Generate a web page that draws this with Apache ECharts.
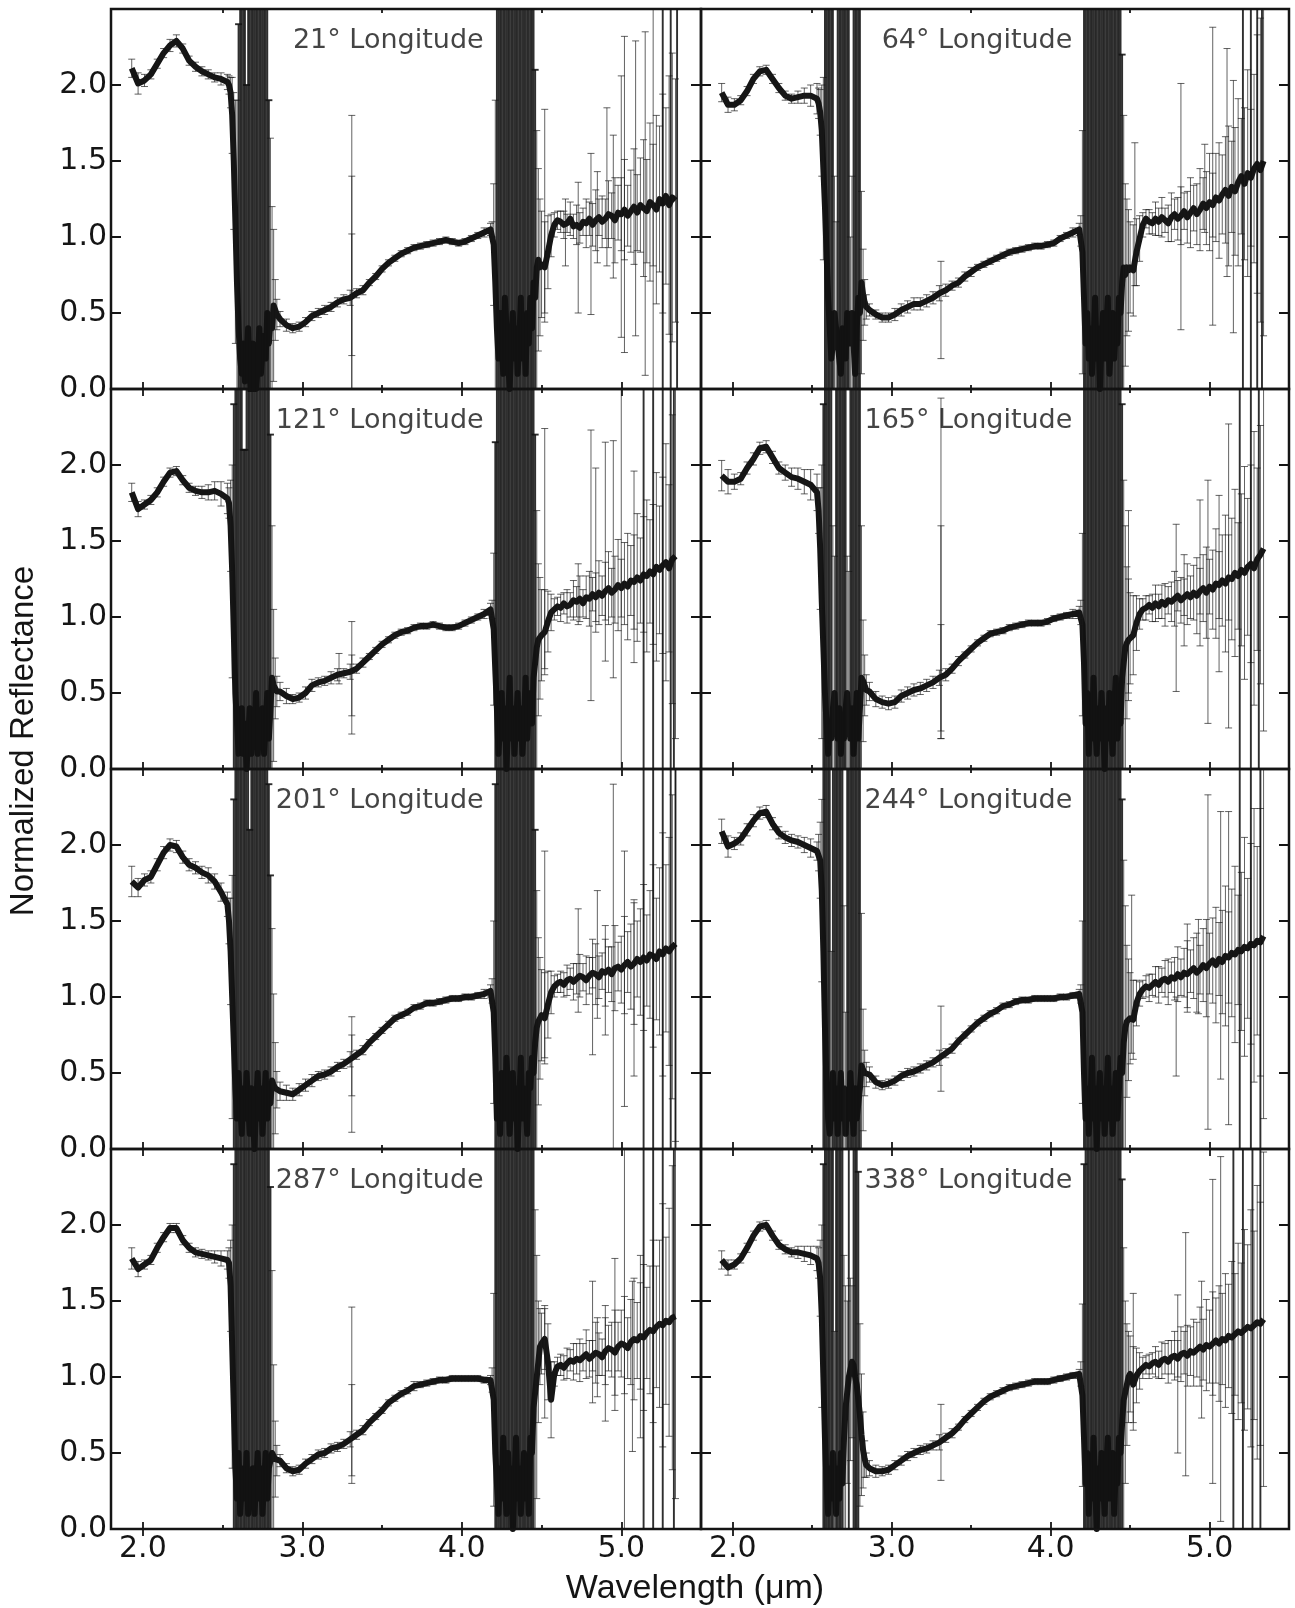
<!DOCTYPE html>
<html>
<head>
<meta charset="utf-8">
<script src="https://cdn.jsdelivr.net/npm/echarts@6/dist/echarts.min.js"></script>
<style>
  html, body { margin: 0; padding: 0; background: #ffffff; }
  #chart { width: 1295px; height: 1608px; }
</style>
</head>
<body>
<div id="chart"></div>
<script>
// Wavelength grid (µm) shared by every spectrum
const wavelength = [
  1.93, 1.97, 2.01, 2.05, 2.09, 2.13, 2.17, 2.21, 2.25, 2.29, 2.33, 2.37, 2.41, 2.45, 2.49, 2.53,
  2.54, 2.55, 2.56, 2.57, 2.58, 2.59, 2.60, 2.61, 2.62, 2.63, 2.64, 2.65, 2.66, 2.67, 2.68, 2.69, 2.70, 2.71, 2.72, 2.73, 2.74, 2.75, 2.76, 2.77, 2.78, 2.79, 2.80, 2.81, 2.82, 2.83, 2.84,
  2.86, 2.90, 2.94, 2.98, 3.02, 3.06, 3.10, 3.14, 3.18, 3.22, 3.26, 3.30, 3.34, 3.38, 3.42, 3.46, 3.50, 3.54, 3.58, 3.62, 3.66, 3.70, 3.74, 3.78, 3.82, 3.86, 3.90, 3.94, 3.98, 4.02, 4.06, 4.10, 4.14, 4.18,
  4.19, 4.20, 4.21, 4.22, 4.23, 4.24, 4.25, 4.26, 4.27, 4.28, 4.29, 4.30, 4.31, 4.32, 4.33, 4.34, 4.35, 4.36, 4.37, 4.38, 4.39, 4.40, 4.41, 4.42, 4.43, 4.44, 4.45, 4.46, 4.47, 4.48, 4.49, 4.50,
  4.52, 4.54, 4.56, 4.58, 4.60, 4.62, 4.64, 4.66, 4.68, 4.70, 4.72, 4.74, 4.76, 4.78, 4.80, 4.82, 4.84, 4.86, 4.88, 4.90, 4.92, 4.94, 4.96, 4.98, 5.00, 5.02, 5.04, 5.06, 5.08, 5.10, 5.12, 5.14, 5.16, 5.18, 5.20, 5.22, 5.24, 5.26, 5.28, 5.30, 5.32, 5.34
];

// Sub-observer longitudes, in panel order (row by row)
const longitudes = [21, 64, 121, 165, 201, 244, 287, 338];

// Axis ticks
const xMajorTicks = [2, 3, 4, 5];
const xMinorTicks = [2.5, 3.5, 4.5];
const yTicks = [0, 0.5, 1, 1.5, 2];

// ---- 21° ----
const ref21 = [
  2.11, 2.01, 2.03, 2.07, 2.14, 2.21, 2.26, 2.29, 2.24, 2.16, 2.12, 2.09, 2.07, 2.05, 2.04, 2.02,
  2.00, 1.95, 1.80, 1.50, 1.10, 0.70, 0.40, 0.20, 0.10, 0.30, 0.05, 0.20, 0.40, 0.10, -0.10, 0.30, 0.20, 0.00, 0.15, 0.40, 0.10, 0.25, 0.35, 0.20, 0.50, 0.30, 0.45, 0.40, 0.55, 0.52, 0.49,
  0.46, 0.42, 0.40, 0.41, 0.44, 0.48, 0.50, 0.52, 0.54, 0.57, 0.59, 0.60, 0.63, 0.65, 0.70, 0.74, 0.79, 0.83, 0.86, 0.89, 0.91, 0.93, 0.94, 0.95, 0.96, 0.97, 0.98, 0.97, 0.96, 0.97, 0.99, 1.01, 1.03, 1.05,
  1.05, 0.95, 0.70, 0.40, 0.20, 0.50, 0.30, 0.10, 0.60, 0.40, 0.20, 0.00, 0.30, 0.50, 0.20, 0.40, 0.10, 0.30, 0.60, 0.20, 0.40, 0.10, 0.50, 0.30, 0.60, 0.40, 0.70, 0.60, 0.80, 0.85, 0.80, 0.82,
  0.80, 0.90, 1.01, 1.08, 1.11, 1.10, 1.08, 1.09, 1.12, 1.07, 1.08, 1.06, 1.10, 1.09, 1.12, 1.08, 1.11, 1.13, 1.10, 1.12, 1.15, 1.14, 1.11, 1.16, 1.15, 1.18, 1.14, 1.17, 1.20, 1.16, 1.21, 1.19, 1.17, 1.23, 1.21, 1.18, 1.25, 1.22, 1.27, 1.21, 1.26, 1.24
];
const err21 = [
  0.06, 0.07, 0.04, 0.03, 0.03, 0.03, 0.04, 0.04, 0.03, 0.03, 0.03, 0.03, 0.03, 0.03, 0.04, 0.05,
  0.06, 0.10, 0.25, 0.45, 0.80, 1.20, 2.00, 2.60, 3.00, 2.50, 3.00, 1.80, 2.20, 3.00, 3.00, 2.40, 2.80, 3.00, 3.00, 2.20, 3.00, 3.00, 2.60, 3.00, 2.00, 1.60, 1.20, 0.80, 0.50, 0.20, 0.10,
  0.05, 0.04, 0.03, 0.03, 0.03, 0.03, 0.03, 0.03, 0.03, 0.03, 0.03, 0.05, 0.03, 0.03, 0.02, 0.02, 0.02, 0.02, 0.02, 0.02, 0.02, 0.02, 0.02, 0.02, 0.02, 0.02, 0.02, 0.02, 0.02, 0.02, 0.02, 0.02, 0.03, 0.04,
  0.05, 0.40, 1.20, 2.50, 3.00, 3.00, 2.50, 3.00, 3.00, 2.80, 3.00, 3.00, 3.00, 2.60, 3.00, 3.00, 3.00, 2.80, 3.00, 3.00, 3.00, 2.50, 3.00, 3.00, 2.20, 2.80, 1.80, 1.50, 0.90, 0.60, 0.45, 0.35,
  0.30, 0.24, 0.14, 0.08, 0.06, 0.07, 0.09, 0.06, 0.11, 0.08, 0.13, 0.10, 0.09, 0.16, 0.11, 0.14, 0.20, 0.12, 0.17, 0.13, 0.22, 0.15, 0.28, 0.18, 0.24, 0.33, 0.20, 0.27, 0.38, 0.25, 0.31, 0.45, 0.34, 0.52, 0.40, 0.62, 0.48, 0.72, 0.58, 0.85, 0.95, 0.80
];
const spikes21 = [
  [3.31, 0.90, 0.90], [3.31, 0.55, 0.85], [3.31, 0.62, 0.40], [4.52, 1.14, 0.70], [4.65, 1.03, 0.22],
  [4.73, 0.93, 0.43], [4.81, 1.02, 0.53], [4.85, 1.13, 0.30], [4.91, 1.33, 0.52], [4.95, 1.20, 0.47],
  [5.00, 1.20, 0.86], [5.02, 1.28, 1.04], [5.09, 1.32, 0.97], [5.15, 1.22, 1.13], [5.20, 1.20, 1.30],
  [5.26, 1.10, 1.60], [5.31, 1.20, 1.80], [5.35, 1.20, 2.00]
];

// ---- 64° ----
const ref64 = [
  1.95, 1.87, 1.87, 1.90, 1.96, 2.04, 2.09, 2.10, 2.04, 1.98, 1.93, 1.91, 1.92, 1.93, 1.93, 1.91,
  1.88, 1.82, 1.70, 1.45, 1.20, 0.90, 0.60, 0.40, 0.20, 0.30, 0.50, 0.40, 0.30, 0.20, 0.10, 0.40, 0.30, 0.20, 0.50, 0.40, 0.30, 0.50, 0.30, 0.10, 0.40, 0.60, 0.50, 0.70, 0.62, 0.57, 0.54,
  0.52, 0.49, 0.47, 0.47, 0.49, 0.52, 0.54, 0.56, 0.56, 0.58, 0.60, 0.63, 0.65, 0.68, 0.70, 0.74, 0.77, 0.80, 0.82, 0.84, 0.86, 0.88, 0.90, 0.91, 0.92, 0.93, 0.94, 0.94, 0.95, 0.96, 0.99, 1.01, 1.03, 1.05,
  1.04, 0.90, 0.60, 0.30, 0.50, 0.20, 0.40, 0.10, 0.30, 0.60, 0.20, 0.40, 0.00, 0.30, 0.50, 0.20, 0.40, 0.60, 0.10, 0.30, 0.50, 0.20, 0.40, 0.30, 0.60, 0.50, 0.70, 0.80, 0.75, 0.80, 0.78, 0.80,
  0.78, 0.90, 0.99, 1.08, 1.12, 1.10, 1.09, 1.12, 1.10, 1.13, 1.11, 1.09, 1.13, 1.15, 1.12, 1.14, 1.17, 1.13, 1.16, 1.19, 1.15, 1.18, 1.22, 1.19, 1.23, 1.21, 1.26, 1.24, 1.28, 1.31, 1.27, 1.33, 1.30, 1.36, 1.40, 1.35, 1.42, 1.39, 1.45, 1.48, 1.44, 1.50
];
const err64 = [
  0.06, 0.05, 0.04, 0.03, 0.03, 0.03, 0.03, 0.03, 0.03, 0.03, 0.03, 0.03, 0.04, 0.05, 0.07, 0.10,
  0.10, 0.15, 0.30, 0.60, 2.50, 3.00, 3.00, 3.00, 2.80, 3.00, 0.90, 0.70, 2.60, 3.00, 3.00, 2.60, 3.00, 3.00, 2.80, 2.80, 0.70, 0.90, 2.80, 3.00, 3.00, 3.00, 2.60, 0.60, 0.30, 0.15, 0.08,
  0.04, 0.03, 0.03, 0.03, 0.04, 0.04, 0.04, 0.04, 0.04, 0.04, 0.04, 0.05, 0.04, 0.03, 0.03, 0.03, 0.03, 0.02, 0.02, 0.02, 0.02, 0.02, 0.02, 0.02, 0.02, 0.02, 0.02, 0.02, 0.02, 0.02, 0.02, 0.02, 0.03, 0.04,
  0.10, 0.80, 2.00, 3.00, 3.00, 2.60, 3.00, 3.00, 3.00, 2.80, 3.00, 3.00, 3.00, 3.00, 2.50, 3.00, 3.00, 2.80, 3.00, 3.00, 3.00, 3.00, 2.60, 3.00, 2.40, 2.00, 1.50, 1.00, 0.60, 0.45, 0.40, 0.30,
  0.30, 0.22, 0.15, 0.08, 0.06, 0.08, 0.07, 0.11, 0.09, 0.13, 0.08, 0.12, 0.16, 0.10, 0.14, 0.19, 0.12, 0.17, 0.23, 0.15, 0.20, 0.27, 0.17, 0.24, 0.32, 0.21, 0.29, 0.38, 0.26, 0.35, 0.46, 0.30, 0.42, 0.55, 0.38, 0.50, 0.68, 0.45, 0.62, 0.85, 1.00, 1.15
];
const spikes64 = [
  [3.31, 0.52, 0.32], [4.53, 1.15, 0.47], [4.82, 1.20, 0.81], [4.97, 1.32, 0.29], [5.02, 1.40, 0.98],
  [5.11, 1.49, 0.75], [5.15, 1.20, 0.83], [5.21, 1.30, 1.60], [5.26, 1.30, 1.70], [5.30, 1.40, 1.80],
  [5.33, 1.40, 2.00]
];

// ---- 121° ----
const ref121 = [
  1.82, 1.71, 1.74, 1.77, 1.82, 1.89, 1.95, 1.96, 1.90, 1.85, 1.83, 1.82, 1.82, 1.83, 1.81, 1.78,
  1.75, 1.60, 1.30, 0.90, 0.50, 0.30, 0.10, 0.20, 0.40, 0.10, 0.30, 0.00, 0.20, 0.40, 0.10, 0.30, 0.20, 0.50, 0.10, 0.30, 0.20, 0.40, 0.10, 0.30, 0.50, 0.20, 0.40, 0.60, 0.55, 0.53, 0.51,
  0.51, 0.48, 0.46, 0.47, 0.50, 0.55, 0.57, 0.58, 0.60, 0.62, 0.63, 0.64, 0.66, 0.70, 0.74, 0.78, 0.82, 0.85, 0.88, 0.90, 0.91, 0.93, 0.94, 0.94, 0.95, 0.94, 0.93, 0.93, 0.94, 0.96, 0.98, 1.00, 1.02, 1.05,
  1.05, 0.92, 0.65, 0.40, 0.10, 0.30, 0.50, 0.20, 0.40, 0.00, 0.30, 0.60, 0.20, 0.40, 0.10, 0.30, 0.50, 0.20, 0.40, 0.10, 0.30, 0.60, 0.20, 0.40, 0.50, 0.30, 0.60, 0.70, 0.80, 0.85, 0.86, 0.88,
  0.90, 0.97, 1.03, 1.05, 1.07, 1.06, 1.09, 1.07, 1.08, 1.11, 1.10, 1.12, 1.09, 1.13, 1.12, 1.15, 1.13, 1.16, 1.14, 1.17, 1.19, 1.16, 1.18, 1.21, 1.19, 1.22, 1.20, 1.24, 1.23, 1.26, 1.24, 1.28, 1.27, 1.30, 1.28, 1.33, 1.31, 1.34, 1.36, 1.32, 1.38, 1.40
];
const err121 = [
  0.06, 0.05, 0.03, 0.03, 0.03, 0.03, 0.03, 0.03, 0.03, 0.03, 0.03, 0.04, 0.05, 0.06, 0.08, 0.10,
  0.10, 0.30, 0.70, 1.50, 2.50, 3.00, 3.00, 2.80, 3.00, 2.00, 1.80, 2.60, 3.00, 3.00, 3.00, 2.80, 3.00, 3.00, 3.00, 2.60, 3.00, 3.00, 3.00, 2.80, 3.00, 2.40, 1.80, 1.00, 0.50, 0.20, 0.10,
  0.06, 0.05, 0.03, 0.03, 0.04, 0.04, 0.03, 0.03, 0.04, 0.04, 0.03, 0.05, 0.03, 0.03, 0.02, 0.02, 0.02, 0.02, 0.02, 0.02, 0.02, 0.02, 0.02, 0.02, 0.02, 0.02, 0.02, 0.02, 0.02, 0.02, 0.02, 0.02, 0.03, 0.04,
  0.06, 0.50, 1.50, 3.00, 3.00, 3.00, 2.80, 3.00, 3.00, 3.00, 3.00, 2.60, 3.00, 3.00, 3.00, 3.00, 2.80, 3.00, 3.00, 3.00, 3.00, 2.80, 3.00, 3.00, 2.60, 2.40, 2.00, 1.50, 0.90, 0.50, 0.40, 0.30,
  0.28, 0.20, 0.12, 0.07, 0.06, 0.09, 0.07, 0.11, 0.08, 0.13, 0.10, 0.15, 0.09, 0.14, 0.18, 0.11, 0.16, 0.21, 0.13, 0.19, 0.24, 0.16, 0.22, 0.30, 0.19, 0.27, 0.35, 0.23, 0.31, 0.42, 0.28, 0.38, 0.50, 0.34, 0.46, 0.62, 0.42, 0.58, 0.78, 0.55, 0.95, 1.20
];
const spikes121 = [
  [3.23, 0.66, 0.10], [3.31, 0.60, 0.37], [3.31, 0.55, 0.20], [4.52, 1.45, 0.79], [4.73, 1.15, 0.20],
  [4.81, 1.34, 0.89], [4.84, 1.44, 0.54], [4.90, 1.43, 0.72], [4.95, 1.38, 0.78], [5.00, 1.20, 1.30],
  [5.08, 1.33, 0.63], [5.14, 1.20, 1.60], [5.20, 1.20, 1.80], [5.26, 1.10, 2.00], [5.31, 1.20, 2.00],
  [5.33, 1.30, 1.80]
];

// ---- 165° ----
const ref165 = [
  1.93, 1.89, 1.89, 1.91, 1.98, 2.04, 2.11, 2.12, 2.05, 1.98, 1.95, 1.92, 1.91, 1.89, 1.87, 1.82,
  1.70, 1.45, 1.10, 0.80, 0.50, 0.30, 0.10, 0.30, 0.20, 0.40, 0.50, 0.30, 0.20, 0.40, 0.10, 0.30, 0.20, 0.40, 0.50, 0.30, 0.20, 0.40, 0.10, 0.30, 0.50, 0.20, 0.40, 0.60, 0.58, 0.55, 0.52,
  0.51, 0.46, 0.44, 0.43, 0.44, 0.48, 0.50, 0.52, 0.53, 0.55, 0.57, 0.60, 0.62, 0.66, 0.71, 0.75, 0.79, 0.83, 0.86, 0.89, 0.90, 0.91, 0.93, 0.94, 0.95, 0.96, 0.96, 0.96, 0.97, 0.99, 1.00, 1.01, 1.02, 1.03,
  1.03, 0.95, 0.70, 0.30, 0.50, 0.10, 0.40, 0.20, 0.60, 0.30, 0.10, 0.40, 0.20, 0.50, 0.30, 0.00, 0.40, 0.20, 0.50, 0.30, 0.10, 0.40, 0.60, 0.20, 0.40, 0.30, 0.60, 0.70, 0.80, 0.83, 0.85, 0.86,
  0.88, 0.96, 1.02, 1.05, 1.06, 1.08, 1.06, 1.09, 1.07, 1.10, 1.08, 1.11, 1.10, 1.12, 1.14, 1.11, 1.13, 1.15, 1.13, 1.16, 1.14, 1.17, 1.19, 1.16, 1.20, 1.18, 1.22, 1.21, 1.24, 1.22, 1.26, 1.25, 1.29, 1.27, 1.31, 1.29, 1.33, 1.35, 1.32, 1.38, 1.41, 1.45
];
const err165 = [
  0.10, 0.08, 0.05, 0.04, 0.04, 0.04, 0.04, 0.04, 0.04, 0.04, 0.05, 0.06, 0.07, 0.08, 0.10, 0.12,
  0.15, 0.40, 0.90, 1.60, 3.00, 3.00, 3.00, 2.80, 3.00, 1.20, 0.90, 3.00, 3.00, 2.80, 3.00, 3.00, 3.00, 2.80, 0.90, 1.00, 3.00, 3.00, 2.80, 3.00, 3.00, 3.00, 2.20, 1.00, 0.40, 0.20, 0.10,
  0.06, 0.05, 0.04, 0.04, 0.04, 0.04, 0.04, 0.04, 0.04, 0.04, 0.04, 0.05, 0.04, 0.03, 0.03, 0.02, 0.02, 0.02, 0.02, 0.02, 0.02, 0.02, 0.02, 0.02, 0.02, 0.02, 0.02, 0.02, 0.02, 0.02, 0.02, 0.02, 0.03, 0.04,
  0.08, 0.60, 1.80, 3.00, 3.00, 3.00, 3.00, 2.80, 3.00, 3.00, 3.00, 3.00, 2.60, 3.00, 3.00, 3.00, 3.00, 2.80, 3.00, 3.00, 3.00, 3.00, 2.60, 3.00, 2.80, 2.20, 1.80, 1.20, 0.80, 0.50, 0.40, 0.30,
  0.26, 0.18, 0.10, 0.07, 0.08, 0.06, 0.09, 0.12, 0.08, 0.11, 0.14, 0.09, 0.13, 0.18, 0.10, 0.15, 0.12, 0.20, 0.14, 0.18, 0.25, 0.15, 0.22, 0.30, 0.18, 0.26, 0.36, 0.22, 0.30, 0.45, 0.28, 0.40, 0.55, 0.35, 0.50, 0.70, 0.45, 0.65, 0.90, 0.60, 0.85, 1.20
];
const spikes165 = [
  [3.31, 1.32, 1.12], [3.31, 0.60, 0.35], [3.31, 0.90, 0.70], [4.49, 1.10, 0.60], [4.79, 1.06, 0.55],
  [4.84, 1.11, 0.30], [4.94, 1.29, 0.48], [4.99, 1.10, 0.80], [5.06, 1.22, 0.58], [5.12, 1.27, 1.00],
  [5.19, 1.20, 1.60], [5.26, 1.20, 1.80], [5.31, 1.30, 2.00]
];

// ---- 201° ----
const ref201 = [
  1.76, 1.72, 1.77, 1.79, 1.87, 1.95, 2.00, 1.99, 1.92, 1.87, 1.85, 1.82, 1.80, 1.76, 1.69, 1.61,
  1.50, 1.30, 1.00, 0.70, 0.40, 0.20, 0.50, 0.30, 0.10, 0.40, 0.20, 0.50, 0.30, 0.10, 0.40, 0.20, 0.00, 0.30, 0.50, 0.20, 0.40, 0.10, 0.30, 0.50, 0.20, 0.40, 0.30, 0.45, 0.42, 0.40, 0.39,
  0.38, 0.37, 0.36, 0.39, 0.42, 0.45, 0.48, 0.49, 0.51, 0.54, 0.56, 0.59, 0.62, 0.65, 0.70, 0.74, 0.78, 0.82, 0.86, 0.88, 0.90, 0.93, 0.94, 0.96, 0.96, 0.97, 0.98, 0.99, 0.99, 1.00, 1.00, 1.01, 1.02, 1.04,
  1.04, 0.90, 0.60, 0.20, 0.40, 0.10, 0.50, 0.30, 0.20, 0.60, 0.40, 0.10, 0.30, 0.50, 0.20, 0.40, 0.00, 0.30, 0.60, 0.20, 0.40, 0.30, 0.10, 0.50, 0.40, 0.60, 0.50, 0.70, 0.80, 0.84, 0.86, 0.88,
  0.86, 0.95, 1.03, 1.07, 1.09, 1.10, 1.08, 1.11, 1.12, 1.10, 1.12, 1.14, 1.13, 1.11, 1.14, 1.16, 1.15, 1.13, 1.17, 1.16, 1.18, 1.15, 1.19, 1.20, 1.18, 1.21, 1.23, 1.20, 1.22, 1.25, 1.23, 1.26, 1.24, 1.28, 1.27, 1.25, 1.30, 1.28, 1.32, 1.30, 1.33, 1.35
];
const err201 = [
  0.10, 0.06, 0.04, 0.04, 0.04, 0.04, 0.04, 0.04, 0.04, 0.04, 0.04, 0.04, 0.05, 0.05, 0.06, 0.08,
  0.15, 0.35, 0.80, 1.60, 3.00, 3.00, 2.80, 3.00, 3.00, 3.00, 2.60, 3.00, 2.20, 2.00, 2.80, 3.00, 3.00, 2.60, 2.20, 2.40, 3.00, 3.00, 3.00, 2.80, 2.40, 2.00, 1.50, 1.00, 0.60, 0.30, 0.12,
  0.06, 0.05, 0.04, 0.04, 0.04, 0.04, 0.03, 0.03, 0.03, 0.03, 0.03, 0.05, 0.03, 0.03, 0.02, 0.02, 0.02, 0.02, 0.02, 0.02, 0.02, 0.02, 0.02, 0.02, 0.02, 0.02, 0.02, 0.02, 0.02, 0.02, 0.02, 0.02, 0.03, 0.04,
  0.08, 0.60, 1.80, 3.00, 3.00, 3.00, 3.00, 3.00, 2.80, 3.00, 3.00, 3.00, 3.00, 2.60, 3.00, 3.00, 3.00, 3.00, 2.80, 3.00, 3.00, 3.00, 3.00, 2.80, 3.00, 2.40, 2.00, 1.40, 0.90, 0.55, 0.40, 0.30,
  0.30, 0.22, 0.14, 0.07, 0.06, 0.07, 0.08, 0.10, 0.07, 0.12, 0.10, 0.14, 0.09, 0.16, 0.12, 0.10, 0.20, 0.14, 0.12, 0.22, 0.15, 0.18, 0.28, 0.16, 0.22, 0.32, 0.20, 0.28, 0.40, 0.25, 0.35, 0.48, 0.30, 0.42, 0.60, 0.40, 0.55, 0.80, 0.55, 0.75, 1.00, 1.30
];
const spikes201 = [
  [3.31, 0.49, 0.38], [3.31, 0.55, 0.20], [4.52, 1.28, 0.68], [4.73, 1.24, 0.34], [4.82, 1.00, 0.38],
  [4.85, 1.28, 0.42], [4.90, 1.11, 0.36], [4.95, 1.20, 1.20], [5.02, 1.12, 0.84], [5.08, 1.06, 0.58],
  [5.14, 1.20, 1.50], [5.20, 1.20, 1.80], [5.26, 1.10, 2.00], [5.31, 1.20, 2.00], [5.34, 1.20, 1.80]
];

// ---- 244° ----
const ref244 = [
  2.09, 1.99, 2.01, 2.04, 2.10, 2.16, 2.21, 2.22, 2.14, 2.08, 2.05, 2.03, 2.02, 2.00, 1.98, 1.96,
  1.95, 1.90, 1.70, 1.30, 0.80, 0.40, 0.20, 0.10, 0.30, 0.50, 0.20, 0.40, 0.10, 0.30, 0.50, 0.20, 0.40, 0.10, 0.30, 0.20, 0.50, 0.30, 0.10, 0.40, 0.20, 0.30, 0.40, 0.55, 0.52, 0.50, 0.49,
  0.49, 0.44, 0.42, 0.43, 0.45, 0.48, 0.50, 0.51, 0.53, 0.55, 0.57, 0.60, 0.63, 0.66, 0.71, 0.75, 0.79, 0.83, 0.86, 0.89, 0.91, 0.94, 0.95, 0.97, 0.98, 0.98, 0.99, 0.99, 0.99, 0.99, 1.00, 1.00, 1.01, 1.02,
  1.02, 0.90, 0.50, 0.20, 0.40, 0.10, 0.30, 0.60, 0.20, 0.40, 0.00, 0.30, 0.50, 0.20, 0.40, 0.10, 0.30, 0.60, 0.20, 0.40, 0.10, 0.30, 0.50, 0.20, 0.40, 0.60, 0.50, 0.70, 0.80, 0.84, 0.85, 0.86,
  0.85, 0.96, 1.02, 1.05, 1.07, 1.06, 1.08, 1.10, 1.08, 1.11, 1.12, 1.10, 1.13, 1.12, 1.15, 1.13, 1.16, 1.15, 1.17, 1.19, 1.16, 1.18, 1.21, 1.19, 1.22, 1.24, 1.21, 1.25, 1.23, 1.27, 1.26, 1.29, 1.28, 1.31, 1.30, 1.33, 1.32, 1.35, 1.34, 1.37, 1.36, 1.40
];
const err244 = [
  0.08, 0.07, 0.04, 0.04, 0.04, 0.04, 0.04, 0.04, 0.04, 0.04, 0.04, 0.04, 0.04, 0.05, 0.06, 0.06,
  0.12, 0.25, 0.60, 1.50, 3.00, 3.00, 3.00, 2.80, 1.00, 2.60, 3.00, 3.00, 2.60, 3.00, 3.00, 2.80, 1.20, 0.80, 2.60, 2.80, 3.00, 3.00, 3.00, 3.00, 2.80, 3.00, 2.20, 1.00, 0.40, 0.15, 0.08,
  0.05, 0.04, 0.03, 0.03, 0.03, 0.03, 0.03, 0.03, 0.03, 0.03, 0.03, 0.05, 0.03, 0.03, 0.02, 0.02, 0.02, 0.02, 0.02, 0.02, 0.02, 0.02, 0.02, 0.02, 0.02, 0.02, 0.02, 0.02, 0.02, 0.02, 0.02, 0.02, 0.02, 0.03,
  0.06, 0.60, 2.00, 3.00, 3.00, 3.00, 3.00, 2.80, 3.00, 3.00, 3.00, 3.00, 3.00, 2.80, 3.00, 3.00, 3.00, 3.00, 2.60, 3.00, 3.00, 3.00, 3.00, 2.80, 3.00, 2.20, 1.80, 1.20, 0.80, 0.50, 0.40, 0.30,
  0.26, 0.15, 0.08, 0.06, 0.07, 0.09, 0.07, 0.10, 0.12, 0.08, 0.12, 0.15, 0.10, 0.14, 0.18, 0.12, 0.16, 0.22, 0.14, 0.20, 0.26, 0.16, 0.24, 0.32, 0.20, 0.28, 0.38, 0.24, 0.34, 0.46, 0.30, 0.42, 0.58, 0.36, 0.52, 0.72, 0.46, 0.66, 0.90, 0.62, 0.88, 1.20
];
const spikes244 = [
  [3.31, 0.66, 0.28], [4.51, 1.15, 0.52], [4.79, 0.74, 0.26], [4.86, 1.19, 0.29], [4.93, 1.20, 0.31],
  [4.99, 1.23, 1.10], [5.07, 1.34, 0.88], [5.12, 1.19, 1.03], [5.19, 1.20, 1.60], [5.26, 1.20, 1.80],
  [5.32, 1.30, 2.00]
];

// ---- 287° ----
const ref287 = [
  1.78, 1.71, 1.74, 1.77, 1.85, 1.92, 1.98, 1.98, 1.90, 1.85, 1.82, 1.81, 1.80, 1.79, 1.78, 1.77,
  1.75, 1.60, 1.20, 0.80, 0.40, 0.20, 0.50, 0.10, 0.30, 0.40, 0.20, 0.50, 0.10, 0.30, 0.20, 0.40, 0.10, 0.30, 0.50, 0.20, 0.40, 0.10, 0.30, 0.50, 0.20, 0.40, 0.45, 0.50, 0.48, 0.46, 0.45,
  0.45, 0.40, 0.38, 0.39, 0.43, 0.46, 0.49, 0.50, 0.53, 0.54, 0.56, 0.59, 0.62, 0.65, 0.70, 0.74, 0.78, 0.83, 0.86, 0.89, 0.91, 0.94, 0.95, 0.96, 0.97, 0.98, 0.98, 0.99, 0.99, 0.99, 0.99, 0.99, 0.98, 0.98,
  0.98, 0.85, 0.50, 0.30, 0.10, 0.40, 0.20, 0.60, 0.30, 0.10, 0.50, 0.20, 0.40, 0.00, 0.30, 0.60, 0.20, 0.40, 0.10, 0.30, 0.50, 0.20, 0.40, 0.10, 0.60, 0.50, 0.80, 0.90, 1.00, 1.10, 1.20, 1.22,
  1.25, 1.10, 0.85, 1.02, 1.07, 1.08, 1.06, 1.09, 1.11, 1.10, 1.12, 1.11, 1.13, 1.15, 1.12, 1.14, 1.16, 1.15, 1.13, 1.17, 1.19, 1.18, 1.16, 1.20, 1.22, 1.21, 1.19, 1.23, 1.25, 1.24, 1.27, 1.26, 1.29, 1.31, 1.30, 1.33, 1.35, 1.34, 1.37, 1.36, 1.39, 1.40
];
const err287 = [
  0.07, 0.05, 0.03, 0.03, 0.03, 0.03, 0.03, 0.03, 0.03, 0.03, 0.03, 0.03, 0.03, 0.04, 0.05, 0.06,
  0.10, 0.30, 0.80, 1.60, 2.80, 3.00, 3.00, 3.00, 3.00, 3.00, 2.80, 3.00, 3.00, 3.00, 3.00, 2.60, 3.00, 3.00, 3.00, 2.80, 2.40, 3.00, 2.60, 2.20, 3.00, 2.40, 1.80, 1.20, 0.60, 0.25, 0.10,
  0.04, 0.03, 0.03, 0.03, 0.03, 0.03, 0.03, 0.03, 0.03, 0.03, 0.03, 0.05, 0.03, 0.03, 0.02, 0.02, 0.02, 0.02, 0.02, 0.02, 0.02, 0.03, 0.02, 0.02, 0.02, 0.02, 0.02, 0.02, 0.02, 0.02, 0.02, 0.02, 0.02, 0.03,
  0.08, 0.70, 2.00, 3.00, 3.00, 3.00, 3.00, 2.80, 3.00, 3.00, 3.00, 3.00, 3.00, 3.00, 2.80, 3.00, 3.00, 3.00, 3.00, 3.00, 2.60, 3.00, 3.00, 3.00, 2.80, 2.40, 1.80, 1.20, 0.80, 0.40, 0.25, 0.20,
  0.20, 0.25, 0.25, 0.08, 0.06, 0.07, 0.08, 0.10, 0.07, 0.12, 0.10, 0.14, 0.09, 0.16, 0.12, 0.10, 0.20, 0.14, 0.12, 0.22, 0.15, 0.18, 0.28, 0.16, 0.22, 0.32, 0.20, 0.28, 0.40, 0.25, 0.35, 0.48, 0.30, 0.42, 0.60, 0.40, 0.55, 0.80, 0.55, 0.75, 1.00, 1.20
];
const spikes287 = [
  [3.31, 0.88, 0.58], [3.31, 0.65, 0.30], [4.52, 1.10, 0.37], [4.82, 1.23, 0.40], [4.85, 1.13, 0.26],
  [4.90, 1.09, 0.38], [4.96, 1.28, 0.50], [5.02, 1.20, 1.30], [5.07, 1.07, 0.56], [5.12, 1.20, 0.60],
  [5.14, 1.20, 1.60], [5.20, 1.20, 1.80], [5.26, 1.20, 2.00], [5.33, 1.30, 2.00]
];

// ---- 338° ----
const ref338 = [
  1.77, 1.72, 1.74, 1.78, 1.85, 1.93, 1.99, 2.00, 1.93, 1.87, 1.84, 1.82, 1.82, 1.81, 1.80, 1.78,
  1.75, 1.65, 1.40, 1.00, 0.60, 0.30, 0.10, 0.40, 0.20, 0.50, 0.30, 0.10, 0.40, 0.20, 0.50, 0.30, 0.60, 0.80, 0.90, 1.00, 1.05, 1.10, 1.08, 1.00, 0.95, 0.85, 0.75, 0.62, 0.52, 0.46, 0.42,
  0.40, 0.38, 0.38, 0.39, 0.42, 0.45, 0.48, 0.50, 0.52, 0.53, 0.55, 0.57, 0.60, 0.63, 0.67, 0.72, 0.76, 0.80, 0.84, 0.87, 0.89, 0.91, 0.93, 0.94, 0.95, 0.96, 0.97, 0.97, 0.97, 0.98, 0.99, 1.00, 1.01, 1.02,
  1.02, 0.88, 0.60, 0.30, 0.50, 0.10, 0.40, 0.20, 0.60, 0.30, 0.00, 0.40, 0.20, 0.50, 0.30, 0.10, 0.40, 0.60, 0.20, 0.30, 0.50, 0.10, 0.40, 0.30, 0.60, 0.50, 0.70, 0.85, 0.90, 0.95, 1.00, 1.02,
  0.95, 1.01, 1.04, 1.06, 1.08, 1.07, 1.09, 1.10, 1.08, 1.11, 1.12, 1.10, 1.13, 1.14, 1.12, 1.15, 1.16, 1.14, 1.17, 1.16, 1.18, 1.20, 1.18, 1.21, 1.20, 1.22, 1.24, 1.22, 1.25, 1.24, 1.27, 1.26, 1.28, 1.30, 1.29, 1.31, 1.33, 1.32, 1.34, 1.36, 1.35, 1.38
];
const err338 = [
  0.06, 0.05, 0.03, 0.03, 0.03, 0.03, 0.03, 0.03, 0.03, 0.03, 0.03, 0.03, 0.04, 0.05, 0.06, 0.08,
  0.10, 0.25, 0.60, 1.40, 3.00, 3.00, 3.00, 2.80, 3.00, 3.00, 1.00, 2.60, 3.00, 3.00, 2.80, 3.00, 1.20, 0.80, 0.60, 1.50, 0.60, 0.50, 2.60, 3.00, 2.60, 1.50, 0.60, 0.40, 0.25, 0.12, 0.08,
  0.05, 0.04, 0.03, 0.03, 0.03, 0.03, 0.03, 0.03, 0.03, 0.03, 0.03, 0.05, 0.03, 0.03, 0.02, 0.02, 0.02, 0.02, 0.02, 0.02, 0.02, 0.02, 0.02, 0.02, 0.02, 0.02, 0.02, 0.02, 0.02, 0.02, 0.02, 0.02, 0.02, 0.03,
  0.08, 0.60, 1.80, 3.00, 3.00, 3.00, 3.00, 3.00, 2.80, 3.00, 3.00, 3.00, 3.00, 2.80, 3.00, 3.00, 3.00, 3.00, 3.00, 2.60, 3.00, 3.00, 3.00, 3.00, 2.60, 2.20, 1.60, 1.00, 0.60, 0.40, 0.30, 0.25,
  0.25, 0.18, 0.12, 0.07, 0.06, 0.08, 0.07, 0.10, 0.09, 0.12, 0.10, 0.14, 0.11, 0.16, 0.12, 0.18, 0.14, 0.20, 0.16, 0.22, 0.18, 0.26, 0.20, 0.30, 0.24, 0.34, 0.28, 0.38, 0.30, 0.44, 0.34, 0.50, 0.40, 0.58, 0.46, 0.66, 0.54, 0.78, 0.62, 0.90, 0.80, 1.10
];
const spikes338 = [
  [3.31, 0.57, 0.25], [4.52, 1.10, 0.45], [4.80, 1.02, 0.52], [4.85, 1.15, 0.80], [4.95, 1.18, 0.45],
  [5.02, 1.30, 1.00], [5.07, 1.25, 1.20], [5.15, 1.20, 1.50], [5.21, 1.20, 1.80], [5.27, 1.20, 2.00],
  [5.32, 1.30, 2.00]
];

const panels = [
  { lon: longitudes[0], ref: ref21,  err: err21,  spikes: spikes21 },
  { lon: longitudes[1], ref: ref64,  err: err64,  spikes: spikes64 },
  { lon: longitudes[2], ref: ref121, err: err121, spikes: spikes121 },
  { lon: longitudes[3], ref: ref165, err: err165, spikes: spikes165 },
  { lon: longitudes[4], ref: ref201, err: err201, spikes: spikes201 },
  { lon: longitudes[5], ref: ref244, err: err244, spikes: spikes244 },
  { lon: longitudes[6], ref: ref287, err: err287, spikes: spikes287 },
  { lon: longitudes[7], ref: ref338, err: err338, spikes: spikes338 }
];
panels.forEach(p => {
  if (p.ref.length !== wavelength.length || p.err.length !== wavelength.length) {
    throw new Error('length mismatch at ' + p.lon + ': ' + p.ref.length + '/' + p.err.length);
  }
});

// ---- layout & style ----
const INK = '#151515';
const CAP = 3.5;
const colLeft = [111, 701];
const colWidth = [590, 588];
const rowTop = [9, 389, 769, 1149];
const rowHeight = 380;
const X_MIN = 1.8, X_MAX = 5.5;

// Error bar: vertical whisker with horizontal caps; very wide (saturated) bars
// are drawn heavier so the absorption bands read as solid.
function renderErrorBar(params, api) {
  const x = api.value(0), y = api.value(1), e = api.value(2);
  const hi = api.coord([x, y + e]);
  const lo = api.coord([x, y - e]);
  const wide = e >= 1.4;
  const style = {
    stroke: wide ? 'rgba(18,18,18,0.88)' : 'rgba(25,25,25,0.68)',
    lineWidth: wide ? 1.9 : 1, fill: null
  };
  return {
    type: 'group',
    children: [
      { type: 'line', shape: { x1: hi[0], y1: hi[1], x2: lo[0], y2: lo[1] }, style },
      { type: 'line', shape: { x1: hi[0] - CAP, y1: hi[1], x2: hi[0] + CAP, y2: hi[1] }, style },
      { type: 'line', shape: { x1: lo[0] - CAP, y1: lo[1], x2: lo[0] + CAP, y2: lo[1] }, style }
    ]
  };
}

const grid = [], xAxis = [], yAxis = [], series = [];
const n = panels.length;

function xAxisDef(gridIndex, position, values, len, showLabel) {
  return {
    type: 'value', gridIndex, position, min: X_MIN, max: X_MAX,
    axisLine: { show: false }, splitLine: { show: false },
    axisTick: { show: true, inside: true, length: len, customValues: values,
                lineStyle: { color: INK, width: 1.8 } },
    axisLabel: { show: showLabel, customValues: values, formatter: v => v.toFixed(1),
                 fontSize: 30, fontFamily: 'DejaVu Sans', color: INK, margin: 5 }
  };
}
function yAxisDef(gridIndex, position, len, showLabel) {
  return {
    type: 'value', gridIndex, position, min: 0, max: 2.5, interval: 0.5,
    axisLine: { show: false }, splitLine: { show: false },
    axisTick: { show: len > 0, inside: true, length: len, customValues: yTicks,
                lineStyle: { color: INK, width: 2 } },
    axisLabel: { show: showLabel, customValues: yTicks, formatter: v => v.toFixed(1),
                 fontSize: 30, fontFamily: 'DejaVu Sans', color: INK, margin: 4 }
  };
}

panels.forEach((p, i) => {
  const col = i % 2, row = Math.floor(i / 2);
  grid.push({
    left: colLeft[col], top: rowTop[row], width: colWidth[col], height: rowHeight,
    show: true, borderColor: INK, borderWidth: 2.5, backgroundColor: 'rgba(0,0,0,0)',
    containLabel: false, outerBoundsMode: 'none'
  });
  xAxis.push(xAxisDef(i, 'bottom', xMajorTicks, 7, row === 3));
  xAxis.push(xAxisDef(i, 'top', xMajorTicks, 7, false));
  yAxis.push(yAxisDef(i, 'left', 10, col === 0));
  yAxis.push(yAxisDef(i, 'right', 10, false));

  const errData = wavelength.map((w, k) => [w, p.ref[k], p.err[k]]).concat(p.spikes);
  series.push({
    type: 'custom', xAxisIndex: 2 * i, yAxisIndex: 2 * i,
    renderItem: renderErrorBar, data: errData, clip: true, silent: true,
    animation: false, z: 3
  });
  series.push({
    type: 'line', xAxisIndex: 2 * i, yAxisIndex: 2 * i,
    data: wavelength.map((w, k) => [w, p.ref[k]]),
    symbol: 'none', showSymbol: false, clip: true, silent: true, animation: false,
    lineStyle: { color: INK, width: 6, join: 'round' }, z: 2
  });
  series.push({
    type: 'scatter', xAxisIndex: 2 * i, yAxisIndex: 2 * i,
    data: [[4.14, 2.29]], symbolSize: 1, itemStyle: { color: 'rgba(0,0,0,0)' },
    silent: true, animation: false, z: 10,
    label: { show: true, position: 'left', distance: 0, formatter: p.lon + '° Longitude',
             fontSize: 27, fontFamily: 'DejaVu Sans', color: INK }
  });
});

// Overlaid grids carrying only the shorter half-micron ticks
panels.forEach((p, i) => {
  const col = i % 2, row = Math.floor(i / 2);
  grid.push({
    left: colLeft[col], top: rowTop[row], width: colWidth[col], height: rowHeight,
    show: false, containLabel: false, outerBoundsMode: 'none'
  });
  xAxis.push(xAxisDef(n + i, 'bottom', xMinorTicks, 4, false));
  xAxis.push(xAxisDef(n + i, 'top', xMinorTicks, 4, false));
  yAxis.push(yAxisDef(n + i, 'left', 0, false));
});

const chart = echarts.init(document.getElementById('chart'), null, { renderer: 'canvas' });
chart.setOption({
  backgroundColor: '#ffffff',
  animation: false,
  grid, xAxis, yAxis, series,
  graphic: [
    {
      type: 'text', x: 24, y: 741, rotation: Math.PI / 2,
      style: { text: 'Normalized Reflectance', fontSize: 33, fontFamily: 'Liberation Sans',
               fill: INK, align: 'center', verticalAlign: 'middle' }
    },
    {
      type: 'text', x: 695, y: 1589,
      style: { text: 'Wavelength (μm)', fontSize: 34, fontFamily: 'Liberation Sans',
               fill: INK, align: 'center', verticalAlign: 'middle' }
    }
  ]
});
</script>
</body>
</html>
